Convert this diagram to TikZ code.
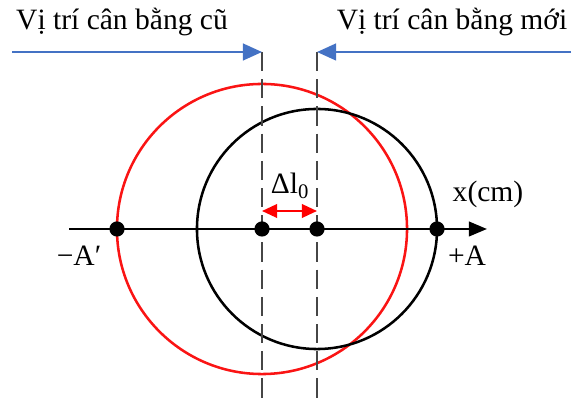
\documentclass[tikz,border=0pt]{standalone}
\usepackage{fontspec}
\setmainfont{Liberation Serif}
\usetikzlibrary{arrows.meta,positioning}
\definecolor{eqblue}{RGB}{68,114,196}
\definecolor{oldred}{RGB}{250,20,20}
\definecolor{eqgray}{RGB}{70,70,70}

\tikzset{
  dot/.style={circle, fill=black, inner sep=0pt, minimum size=0.38cm},
  lbl/.style={font=\fontsize{21}{25}\selectfont, inner sep=0pt},
  eqline/.style={eqgray, line width=2pt, dash pattern=on 0.48cm off 0.2cm},
  posarrow/.style={eqblue, line width=1.6pt, -{Triangle[length=0.48cm, width=0.42cm]}},
  axis/.style={line width=1.8pt, -{Triangle[length=0.45cm, width=0.36cm]}},
  dlarrow/.style={red, line width=1.6pt, {Triangle[length=0.38cm, width=0.34cm]}-{Triangle[length=0.38cm, width=0.34cm]}},
}

\begin{document}
\begin{tikzpicture}[x=0.025cm, y=-0.025cm]
  \useasboundingbox (0,0) rectangle (580,405);

  % Circles
  \draw[oldred, line width=1.8pt] (262,229) circle[radius=3.625cm];
  \draw[black, line width=1.8pt] (317,229) circle[radius=3cm];

  % Equilibrium positions
  \coordinate (oldtop) at (262,52);
  \coordinate (oldbot) at (262,405);
  \coordinate (newtop) at (317,52);
  \coordinate (newbot) at (317,405);
  \draw[eqline] (oldtop) -- (oldbot);
  \draw[eqline] (newtop) -- (newbot);

  \node[lbl] (oldlbl) at (122,22) {Vị trí cân bằng cũ};
  \node[lbl] (newlbl) at (452,22) {Vị trí cân bằng mới};
  \coordinate (oldstart) at (12,52);
  \coordinate (newstart) at (571,52);
  \draw[posarrow] (oldstart) -- (oldtop);
  \draw[posarrow] (newstart) -- (newtop);

  % Axis
  \coordinate (xstart) at (69,229);
  \coordinate (xend) at (487,229);
  \draw[axis] (xstart) -- (xend);
  \node[dot] (ma) at (117,229) {};
  \node[dot] (o1) at (262,229) {};
  \node[dot] (o2) at (317,229) {};
  \node[dot] (pa) at (437,229) {};

  \node[lbl] (xlbl) at (488,194) {x(cm)};
  \node[lbl] (malbl) at (79,256) {−A′};
  \node[lbl] (palbl) at (467,256) {+A};

  % Shift of equilibrium
  \coordinate (dla) at (262,211);
  \coordinate (dlb) at (317,211);
  \draw[dlarrow] (dla) -- (dlb);
  \node[lbl] (dl) at (290,186) {Δl\textsubscript{0}};
\end{tikzpicture}
\end{document}
